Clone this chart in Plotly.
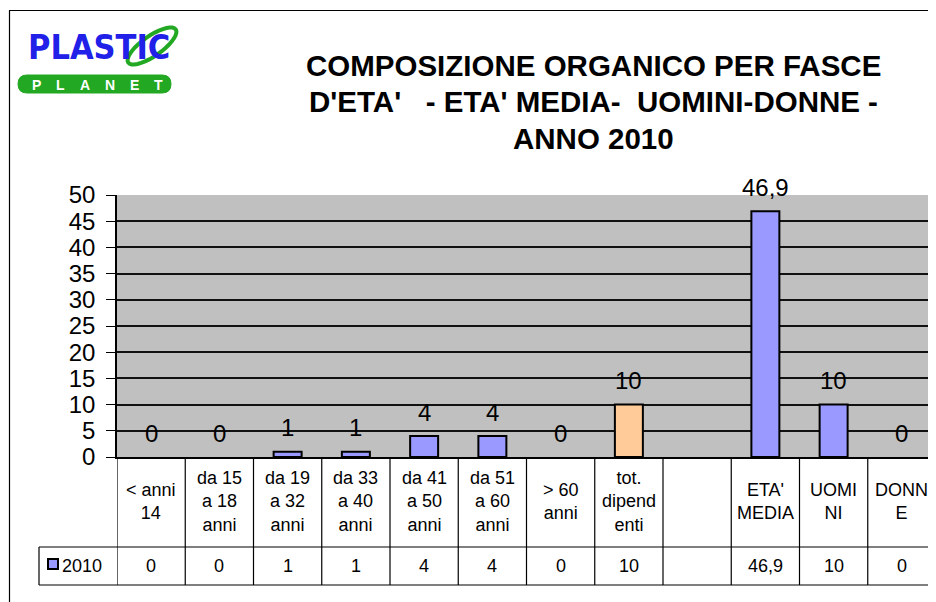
import math
import plotly.graph_objects as go

# ---------------- data ----------------
categories = [
    "&lt; anni<br>14",
    "da 15<br>a 18<br>anni",
    "da 19<br>a 32<br>anni",
    "da 33<br>a 40<br>anni",
    "da 41<br>a 50<br>anni",
    "da 51<br>a 60<br>anni",
    "&gt; 60<br>anni",
    "tot.<br>dipend<br>enti",
    "",
    "ETA'<br>MEDIA",
    "UOMI<br>NI",
    "DONN<br>E",
]
values_2010 = [0, 0, 1, 1, 4, 4, 0, 10, None, 46.9, 10, 0]
series_name = "2010"
bar_colors = ["#9999FF"] * 7 + ["#FFCC99"] + ["#9999FF"] * 4
y_tick_values = [0, 5, 10, 15, 20, 25, 30, 35, 40, 45, 50]
title_lines = [
    "COMPOSIZIONE ORGANICO PER FASCE",
    "D'ETA'\u00a0\u00a0\u00a0- ETA' MEDIA-\u00a0\u00a0UOMINI-DONNE -",
    "ANNO 2010",
]
logo_word = "PLASTIC"
logo_sub = ["P", "L", "A", "N", "E", "T"]

# ---------------- layout geometry (screen pixels; page body offset 8px) ----------------
W, H = 936, 602
OFF = 8
PL, PR, PT, PB = 117, 936, 195, 457  # plot area in screen pixels
FONT = "Liberation Sans, Arial, sans-serif"


def px(x):
    return (x - PL) / (PR - PL)


def py(y):
    return (PB - y) / (PB - PT)


def fmt(v):
    if v is None:
        return ""
    return f"{v:g}".replace(".", ",")


xs = list(range(len(categories)))
line_widths = [0 if (v is None or v == 0) else 2 for v in values_2010]

fig = go.Figure()
fig.add_trace(go.Bar(
    x=xs, y=values_2010, name=series_name,
    marker=dict(color=bar_colors, line=dict(color="black", width=line_widths)),
    width=0.41, showlegend=False, hoverinfo="skip",
))

shapes = []
annotations = []

# outer frame (top and left edges visible)
shapes.append(dict(type="line", xref="paper", yref="paper",
                   x0=px(9), x1=px(945), y0=py(10.5), y1=py(10.5),
                   line=dict(color="black", width=1.2)))
shapes.append(dict(type="line", xref="paper", yref="paper",
                   x0=px(9.5), x1=px(9.5), y0=py(10.5), y1=py(615),
                   line=dict(color="black", width=1.2)))

# data table lines
for i in range(len(categories)):
    shapes.append(dict(type="line", xref="x", yref="paper",
                       x0=i - 0.5, x1=i - 0.5, y0=0, y1=py(585),
                       line=dict(color="black", width=1.2)))
for yy in (547, 585):
    shapes.append(dict(type="line", xref="paper", yref="paper",
                       x0=px(39), x1=px(945), y0=py(yy), y1=py(yy),
                       line=dict(color="black", width=1.2)))
shapes.append(dict(type="line", xref="paper", yref="paper",
                   x0=px(39), x1=px(39), y0=py(547), y1=py(585),
                   line=dict(color="black", width=1.2)))
# legend key in table
shapes.append(dict(type="rect", xref="paper", yref="paper",
                   x0=px(48), x1=px(58), y0=py(559), y1=py(569),
                   fillcolor=bar_colors[0], line=dict(color="black", width=2)))
annotations.append(dict(xref="paper", yref="paper", x=px(60), y=py(566),
                        xanchor="left", yanchor="middle", text=series_name,
                        showarrow=False, font=dict(family=FONT, size=18, color="black")))

# category labels + values in table
for i, (c, v) in enumerate(zip(categories, values_2010)):
    if c:
        annotations.append(dict(xref="x", yref="paper", x=i, y=py(501),
                                xanchor="center", yanchor="middle", text=c,
                                showarrow=False, align="center",
                                font=dict(family=FONT, size=18, color="black")))
    annotations.append(dict(xref="x", yref="paper", x=i, y=py(566),
                            xanchor="center", yanchor="middle", text=fmt(v),
                            showarrow=False,
                            font=dict(family=FONT, size=18, color="black")))
    # data labels above bars
    if v is not None:
        annotations.append(dict(xref="x", yref="y", x=i, y=v, yshift=24,
                                xanchor="center", yanchor="middle", text=fmt(v),
                                showarrow=False,
                                font=dict(family=FONT, size=24, color="black")))

# title
for k, line in enumerate(title_lines):
    annotations.append(dict(xref="paper", yref="paper", x=px(593), y=py(65.5 + 36.5 * k),
                            xanchor="center", yanchor="middle", text=f"<b>{line}</b>",
                            showarrow=False,
                            font=dict(family=FONT, size=29.5, color="black")))

# logo: green pill with PLANET, blue PLASTIC, green ring
r = 9
x0, x1, y0, y1 = 18, 171, 75, 93
pill = (f"M {px(x0 + r)},{py(y0)} L {px(x1 - r)},{py(y0)} "
        f"Q {px(x1)},{py(y0)} {px(x1)},{py(y0 + r)} "
        f"Q {px(x1)},{py(y1)} {px(x1 - r)},{py(y1)} "
        f"L {px(x0 + r)},{py(y1)} "
        f"Q {px(x0)},{py(y1)} {px(x0)},{py(y1 - r)} "
        f"Q {px(x0)},{py(y0)} {px(x0 + r)},{py(y0)} Z")
shapes.append(dict(type="path", xref="paper", yref="paper", path=pill,
                   fillcolor="#22A822", line=dict(color="#22A822", width=1)))
for k, ch in enumerate(logo_sub):
    annotations.append(dict(xref="paper", yref="paper", x=px(36 + 24.5 * k), y=py(84.5),
                            xanchor="center", yanchor="middle", text=f"<b>{ch}</b>",
                            showarrow=False,
                            font=dict(family=FONT, size=14, color="white")))
annotations.append(dict(xref="paper", yref="paper", x=px(26), y=py(47),
                        xanchor="left", yanchor="middle", text=f"<b>{logo_word}</b>",
                        showarrow=False,
                        font=dict(family="DejaVu Sans Condensed, Liberation Sans, Arial",
                                  size=34, color="#2020E8")))
# ring (rotated ellipse)
cx, cy, rx, ry, ang = 152, 46, 29, 10, math.radians(-35)
pts = []
for t in range(0, 361, 10):
    a = math.radians(t)
    ex, ey = rx * math.cos(a), ry * math.sin(a)
    X = cx + ex * math.cos(ang) - ey * math.sin(ang)
    Y = cy + ex * math.sin(ang) + ey * math.cos(ang)
    pts.append(f"{px(X)},{py(Y)}")
shapes.append(dict(type="path", xref="paper", yref="paper",
                   path="M " + " L ".join(pts) + " Z",
                   line=dict(color="#22A822", width=4)))

fig.update_layout(
    template="none",
    width=W, height=H,
    margin=dict(l=PL - OFF, r=W - (PR - OFF), t=PT - OFF, b=H - (PB - OFF), pad=0),
    paper_bgcolor="white", plot_bgcolor="#C0C0C0",
    separators=",.",
    showlegend=False,
    shapes=shapes, annotations=annotations,
    xaxis=dict(range=[-0.5, len(categories) - 0.5], showticklabels=False,
               showgrid=False, zeroline=False, showline=True,
               linecolor="black", linewidth=1.5, ticks="", automargin=False),
    yaxis=dict(range=[0, 50], tickvals=y_tick_values, showgrid=True,
               gridcolor="#111111", gridwidth=1.5, zeroline=False,
               showline=True, linecolor="black", linewidth=1.5,
               ticks="outside", ticklen=9, tickcolor="black", tickwidth=1.2,
               ticklabelstandoff=6,
               tickfont=dict(family=FONT, size=24, color="black"),
               automargin=False),
)

fig.write_html("out.html")
